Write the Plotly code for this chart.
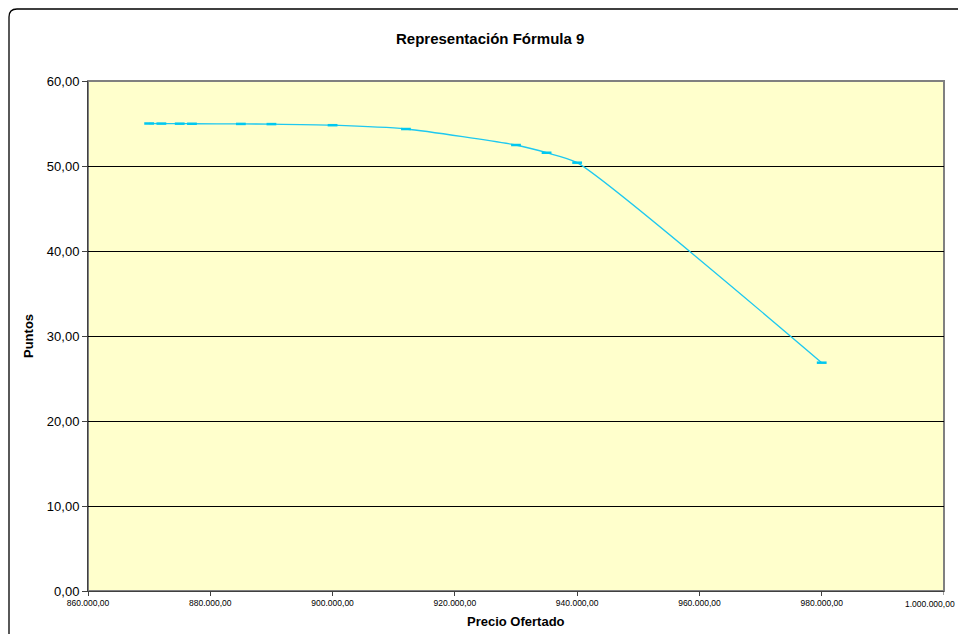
import plotly.graph_objects as go

# Offered price vs. points awarded by formula 9
precio = [870000, 872000, 875000, 877000, 885000, 890000, 900000,
          912000, 930000, 935000, 940000, 980000]
puntos = [55.00, 54.99, 54.98, 54.97, 54.95, 54.93, 54.80,
          54.35, 52.47, 51.56, 50.39, 26.86]

x_ticks = [860000, 880000, 900000, 920000, 940000, 960000, 980000, 1000000]
y_ticks = [0, 10, 20, 30, 40, 50, 60]

W, H = 958, 634
L, R, T, B = 88, 14, 81, 43
pw, ph = W - L - R, H - T - B


def px(x):
    return (x - L) / pw


def py(y):
    return (H - B - y) / ph


fig = go.Figure()
fig.add_trace(go.Scatter(
    x=precio, y=puntos, mode="lines+markers",
    line=dict(color="#1ec8f0", width=1.3, shape="spline", smoothing=0.6),
    marker=dict(symbol="line-ew", size=7, color="#00c8f0",
                line=dict(color="#00c8f0", width=2.5)),
    showlegend=False, hoverinfo="x+y",
))

font = "Liberation Sans, Arial, sans-serif"

# chart frame with rounded top-left corner
frame = (f"M {px(9)} {py(660)} L {px(9)} {py(17)} "
         f"Q {px(9)} {py(9)} {px(17)} {py(9)} L {px(980)} {py(9)}")

fig.update_layout(
    width=W, height=H,
    margin=dict(l=L, r=R, t=T, b=B, autoexpand=False),
    paper_bgcolor="white", plot_bgcolor="#ffffcc",
    separators=",.",
    font=dict(family=font, color="black"),
    xaxis=dict(range=[860000, 1000000], tickvals=x_ticks[:-1], tickformat=",.2f",
               tickfont=dict(size=8.5), ticks="outside", ticklen=4,
               tickcolor="#404040", showgrid=False, zeroline=False,
               showline=True, linecolor="#404040", linewidth=1),
    yaxis=dict(range=[0, 60], tickvals=y_ticks, tickformat=",.2f",
               tickfont=dict(size=13), ticks="outside", ticklen=5,
               tickcolor="#404040", showgrid=True, gridcolor="black",
               gridwidth=1, zeroline=False,
               showline=True, linecolor="#404040", linewidth=1),
    shapes=[
        dict(type="rect", xref="paper", yref="paper", x0=0, x1=1, y0=0, y1=1,
             line=dict(color="#808080", width=2), layer="below"),
        dict(type="path", xref="paper", yref="paper", path=frame,
             line=dict(color="black", width=1.3)),
        # tick mark for the last x value, whose label is placed separately
        dict(type="line", xref="x", yref="paper", x0=x_ticks[-1], x1=x_ticks[-1],
             y0=0, y1=py(595), line=dict(color="#404040", width=1)),
    ],
    annotations=[
        dict(text="<b>Representación Fórmula 9</b>", xref="paper", yref="paper",
             x=px(490), y=py(38), showarrow=False, font=dict(size=15),
             xanchor="center", yanchor="middle"),
        dict(text="<b>Puntos</b>", xref="paper", yref="paper",
             x=px(28), y=py(336), showarrow=False, font=dict(size=13),
             textangle=-90, xanchor="center", yanchor="middle"),
        dict(text="<b>Precio Ofertado</b>", xref="paper", yref="paper",
             x=0.5, y=py(621), showarrow=False, font=dict(size=13),
             xanchor="center", yanchor="middle"),
        # last tick label, kept inside the page at the right edge
        dict(text="1.000.000,00", xref="paper", yref="paper",
             x=px(957), y=py(604), showarrow=False, font=dict(size=8.5),
             xanchor="right", yanchor="middle"),
    ],
)

fig.write_html("out.html")
